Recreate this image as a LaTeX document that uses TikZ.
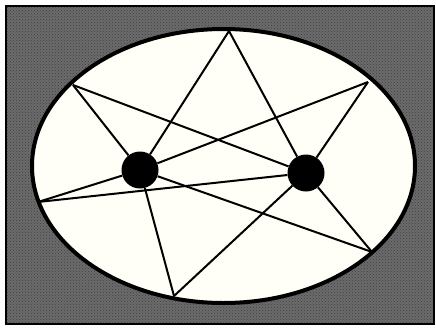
\documentclass[tikz,border=0pt]{standalone}
\usetikzlibrary{patterns}
\begin{document}
\begin{tikzpicture}[x=1pt,y=-1pt,
  spoke/.style={line width=2pt, black},
  hub/.style={circle, fill=black, minimum size=37pt, inner sep=0pt}]
\useasboundingbox (0,0) rectangle (436,330);
\fill[white] (0,0) rectangle (436,330);
% stippled background
\fill[black!58] (6,6) rectangle (434,324);
\fill[pattern=crosshatch dots, pattern color=black!75] (6,6) rectangle (434,324);
\draw[line width=2.2pt] (6,6) rectangle (434,324);
% ellipse
\fill[white!97!yellow] (223.5,166) ellipse [x radius=191.5, y radius=137];
\draw[line width=4pt] (223.5,166) ellipse [x radius=191.5, y radius=137];
% rim points
\coordinate (top) at (229,31);
\coordinate (ul) at (73,85);
\coordinate (ur) at (368,82);
\coordinate (lft) at (38,202);
\coordinate (bot) at (174,296);
\coordinate (lr) at (372,252);
% hubs
\node[hub] (hl) at (140,170) {};
\node[hub] (hr) at (306,173) {};
% spokes
\foreach \p in {top,ul,ur,lft,bot,lr}{
  \draw[spoke] (\p) -- (hl);
  \draw[spoke] (\p) -- (hr);
}
\end{tikzpicture}
\end{document}
